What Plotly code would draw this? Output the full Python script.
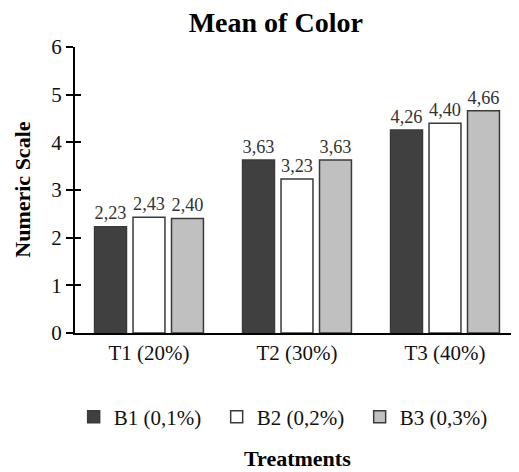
import plotly.graph_objects as go

treatments = ["T1 (20%)", "T2 (30%)", "T3 (40%)"]
series_names = ["B1 (0,1%)", "B2 (0,2%)", "B3 (0,3%)"]
b1_values = [2.23, 3.63, 4.26]
b2_values = [2.43, 3.23, 4.40]
b3_values = [2.40, 3.63, 4.66]
y_ticks = [0, 1, 2, 3, 4, 5, 6]

colors = ["#404040", "#ffffff", "#c0c0c0"]
serif = "Liberation Serif, Times New Roman, serif"


def fmt(v):
    # comma decimal like the original
    return f"{v:.2f}".replace(".", ",")


fig = go.Figure()
for name, vals, col in zip(series_names, [b1_values, b2_values, b3_values], colors):
    fig.add_trace(go.Bar(
        name=name,
        x=treatments,
        y=vals,
        text=[fmt(v) for v in vals],
        textposition="outside",
        cliponaxis=False,
        textfont={"family": serif, "size": 21, "color": "#333333"},
        marker_color=col,
        marker_line_color="#3a3a3a",
        marker_line_width=1.5,
    ))

# empty trace to carry the inner tick marks axis
fig.add_trace(go.Scatter(x=[], y=[], yaxis="y2", showlegend=False, hoverinfo="skip"))

# page body has an 8px margin, so the figure is 8px smaller each way
fig.update_layout(
    width=511,
    height=464,
    margin=dict(l=67, r=0, t=39, b=139),
    paper_bgcolor="white",
    plot_bgcolor="white",
    font={"family": serif, "size": 21, "color": "#111111"},
    barmode="group",
    bargap=0.22,
    bargroupgap=0.17,
    title={
        "text": "<b>Mean of Color</b>",
        "x": 0.524,
        "xanchor": "center",
        "y": 0.970,
        "yanchor": "middle",
        "font": {"family": serif, "size": 28, "color": "black"},
    },
    xaxis={
        "showline": True,
        "linecolor": "black",
        "linewidth": 2,
        "ticks": "",
        "showgrid": False,
        "automargin": False,
        "tickfont": {"family": serif, "size": 21, "color": "#111111"},
    },
    yaxis={
        "range": [0, 6],
        "tickvals": y_ticks,
        "showline": True,
        "linecolor": "black",
        "linewidth": 2,
        "ticks": "outside",
        "ticklen": 7,
        "tickwidth": 2,
        "tickcolor": "black",
        "showgrid": False,
        "zeroline": False,
        "automargin": False,
        "tickfont": {"family": serif, "size": 21, "color": "#111111"},
    },
    yaxis2={
        "range": [0, 6],
        "tickvals": y_ticks,
        "overlaying": "y",
        "side": "left",
        "ticks": "inside",
        "ticklen": 6,
        "tickwidth": 2,
        "tickcolor": "black",
        "showticklabels": False,
        "showline": False,
        "showgrid": False,
        "zeroline": False,
        "automargin": False,
    },
    legend={
        "orientation": "h",
        "x": -0.003,
        "xanchor": "left",
        "y": -0.294,
        "yanchor": "middle",
        "font": {"family": serif, "size": 21},
        "itemwidth": 30,
        "entrywidth": 98,
    },
    showlegend=True,
    annotations=[
        {
            "text": "<b>Treatments</b>",
            "xref": "paper",
            "yref": "paper",
            "x": 0.5,
            "y": -0.44,
            "xanchor": "center",
            "yanchor": "middle",
            "showarrow": False,
            "font": {"family": serif, "size": 22, "color": "black"},
        },
        {
            "text": "<b>Numeric Scale</b>",
            "xref": "paper",
            "yref": "paper",
            "x": -0.12,
            "y": 0.5,
            "textangle": -90,
            "xanchor": "center",
            "yanchor": "middle",
            "showarrow": False,
            "font": {"family": serif, "size": 22, "color": "black"},
        },
    ],
)

fig.write_html("out.html")
